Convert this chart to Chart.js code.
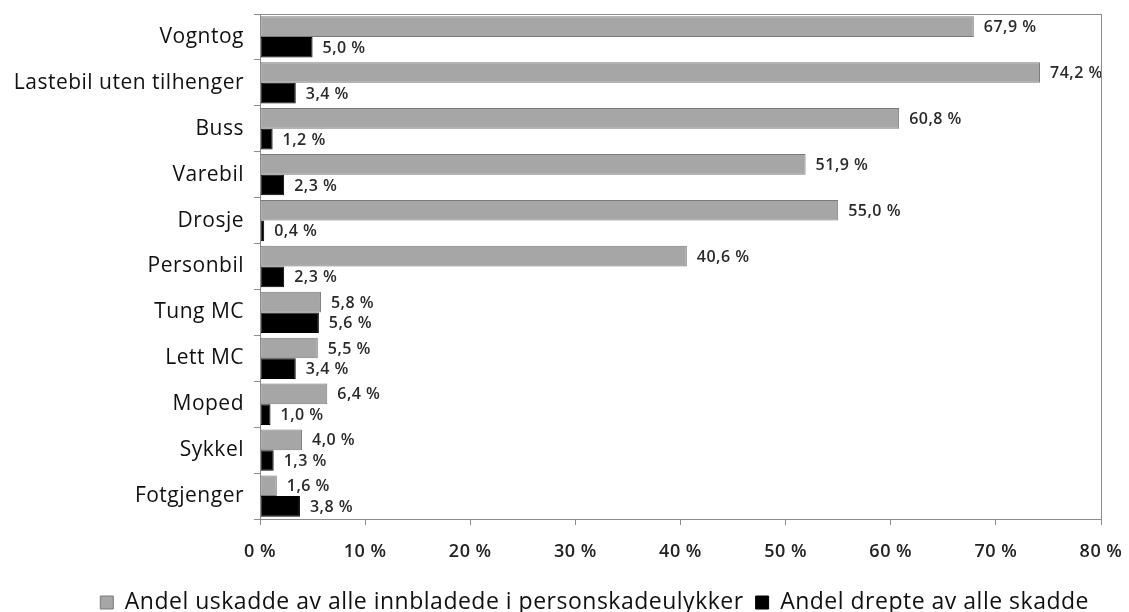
<!DOCTYPE html>
<html>
<head>
<meta charset="utf-8">
<script src="https://cdn.jsdelivr.net/npm/chart.js@4/dist/chart.umd.min.js"></script>
<style>
    html, body { margin: 0; padding: 0; background: #fff; }
    #page { width: 1129px; height: 612px; overflow: hidden; }
    #wrap { width: 1129px; height: 624px; }
</style>
</head>
<body>
<div id="page"><div id="wrap"><canvas id="chart"></canvas></div></div>
<script>
var categories = ['Vogntog', 'Lastebil uten tilhenger', 'Buss', 'Varebil', 'Drosje', 'Personbil',
    'Tung MC', 'Lett MC', 'Moped', 'Sykkel', 'Fotgjenger'];
var uskadde = [67.9, 74.2, 60.8, 51.9, 55.0, 40.6, 5.8, 5.5, 6.4, 4.0, 1.6];
var drepte = [5.0, 3.4, 1.2, 2.3, 0.4, 2.3, 5.6, 3.4, 1.0, 1.3, 3.8];
var seriesNames = ['Andel uskadde av alle innbladede i personskadeulykker', 'Andel drepte av alle skadde'];
var xTicks = [0, 10, 20, 30, 40, 50, 60, 70, 80];

var fontFamily = '"Open Sans", Lato, sans-serif';

function pct(v) {
    return v.toFixed(1).replace('.', ',') + ' %';
}

// a little extra tracking on all canvas text (state is lost when the canvas resizes)
var tracking = {
    id: 'tracking',
    beforeUpdate: function (chart) { chart.ctx.letterSpacing = '0.5px'; },
    beforeDraw: function (chart) { chart.ctx.letterSpacing = '0.5px'; }
};

// frame round the plot area
var frame = {
    id: 'frame',
    afterDraw: function (chart) {
        var a = chart.chartArea;
        var ctx = chart.ctx;
        ctx.save();
        ctx.strokeStyle = '#8c8c8c';
        ctx.lineWidth = 1;
        ctx.strokeRect(Math.round(a.left) + 0.5, Math.round(a.top) + 0.5,
            Math.round(a.right - a.left), Math.round(a.bottom - a.top));
        ctx.restore();
    }
};

// value labels at the end of each bar
var barLabels = {
    id: 'barLabels',
    afterDatasetsDraw: function (chart) {
        var ctx = chart.ctx;
        ctx.save();
        ctx.font = '600 16px ' + fontFamily;
        ctx.fillStyle = '#2a2a2a';
        ctx.textBaseline = 'middle';
        chart.data.datasets.forEach(function (ds, i) {
            chart.getDatasetMeta(i).data.forEach(function (bar, j) {
                ctx.fillText(pct(ds.data[j]), bar.x + 10, bar.y + 1);
            });
        });
        ctx.restore();
    }
};

new Chart(document.getElementById('chart'), {
    type: 'bar',
    data: {
        labels: categories,
        datasets: [{
            label: seriesNames[0],
            data: uskadde,
            backgroundColor: '#a6a6a6',
            borderColor: '#7a7a7a',
            borderWidth: 1,
            borderSkipped: false
        }, {
            label: seriesNames[1],
            data: drepte,
            backgroundColor: '#000',
            borderColor: '#000',
            borderWidth: 1,
            borderSkipped: false
        }]
    },
    options: {
        indexAxis: 'y',
        responsive: true,
        maintainAspectRatio: false,
        animation: false,
        devicePixelRatio: 1,
        categoryPercentage: 0.9,
        barPercentage: 1.0,
        layout: { padding: { top: 14, right: 28, left: 6, bottom: 0 } },
        scales: {
            x: {
                min: 0,
                max: 80,
                afterBuildTicks: function (scale) {
                    scale.ticks = xTicks.map(function (v) { return { value: v }; });
                },
                afterFit: function (scale) {
                    scale.height = 60;
                    scale.paddingRight = 0;
                },
                grid: {
                    drawOnChartArea: false,
                    drawTicks: true,
                    tickLength: 6,
                    color: '#8c8c8c'
                },
                border: { color: '#8c8c8c' },
                ticks: {
                    padding: 16,
                    color: '#222',
                    font: { family: fontFamily, size: 18, weight: '600' },
                    callback: function (v) { return v + ' %'; }
                }
            },
            y: {
                afterFit: function (scale) {
                    scale.width = 254;
                    scale.paddingTop = 0;
                    scale.paddingBottom = 0;
                },
                grid: {
                    offset: true,
                    drawOnChartArea: false,
                    drawTicks: true,
                    tickLength: 6,
                    color: '#8c8c8c'
                },
                border: { color: '#8c8c8c' },
                ticks: {
                    padding: 10,
                    color: '#111',
                    font: { family: fontFamily, size: 21 }
                }
            }
        },
        plugins: {
            legend: {
                position: 'bottom',
                align: 'end',
                labels: {
                    boxWidth: 13,
                    boxHeight: 13,
                    padding: 12,
                    color: '#111',
                    font: { family: fontFamily, size: 23 }
                }
            },
            tooltip: { enabled: false }
        }
    },
    plugins: [tracking, frame, barLabels]
});
</script>
</body>
</html>
